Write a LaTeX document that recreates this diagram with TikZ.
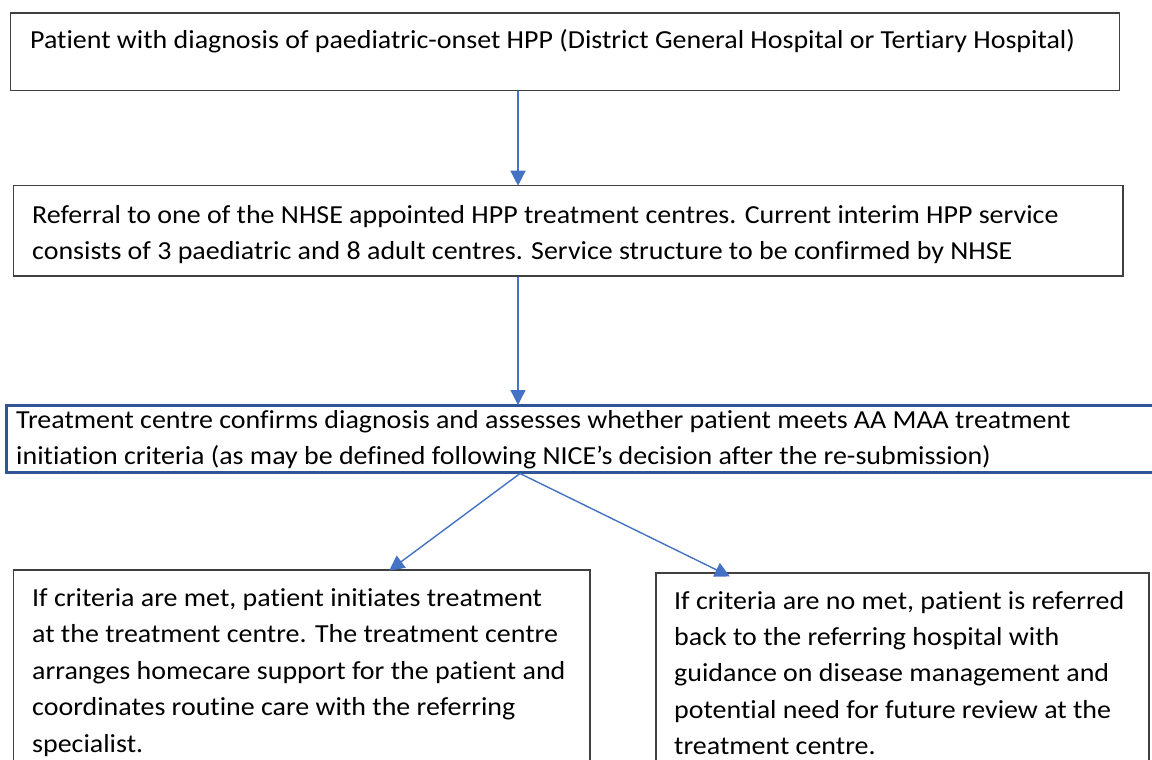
\documentclass[tikz,border=0pt]{standalone}
\usepackage{fontspec}
\setmainfont{Carlito}[FakeStretch=1.075,Ligatures=NoCommon]
\usetikzlibrary{arrows.meta,calc}
\definecolor{boxgray}{HTML}{404040}
\definecolor{arrowblue}{HTML}{4472C4}
\definecolor{darkblue}{HTML}{2F5597}
\newcommand{\lines}[1]{\begin{tabular}[t]{@{}l@{}}#1\end{tabular}}
\tikzset{
  box/.style={draw=boxgray, line width=1.5pt, rectangle, inner sep=0pt, anchor=north west},
  bluebox/.style={draw=darkblue, line width=2.5pt, rectangle, inner sep=0pt, anchor=north west},
  txt/.style={anchor=base west, inner sep=0pt, font=\fontsize{26}{36.4}\selectfont, text=black},
  flow/.style={draw=arrowblue, line width=1.4pt, -{Triangle[width=15pt,length=15pt]}, shorten >=-1pt}
}
\begin{document}
\begin{tikzpicture}[x=1pt,y=-1pt]
\useasboundingbox (0,0) rectangle (1152,760);
\clip (0,0) rectangle (1152,760);
\fill[white] (0,0) rectangle (1152,760);
% boxes
\node[box, minimum width=1109pt, minimum height=77.5pt] (b1) at (9.5,12.3) {};
\node[box, minimum width=1109.5pt, minimum height=90.5pt] (b2) at (12.7,184.7) {};
\node[bluebox, minimum width=1160pt, minimum height=67pt] (b3) at (5,404) {};
\node[box, minimum width=576.5pt, minimum height=220pt] (b4) at (12.7,569.3) {};
\node[box, minimum width=493pt, minimum height=220pt] (b5) at (655,572) {};
% texts
\node[txt] (t1) at (30,48.5) {\lines{Patient with diagnosis of paediatric-onset HPP (District General Hospital or Tertiary Hospital)}};
\node[txt] (t2) at (32,223.5) {\lines{Referral to one of the NHSE appointed HPP treatment centres. Current interim HPP service\\consists of 3 paediatric and 8 adult centres. Service structure to be confirmed by NHSE}};
\node[txt] (t3) at (16,428.5) {\lines{Treatment centre confirms diagnosis and assesses whether patient meets AA MAA treatment\\initiation criteria (as may be defined following NICE's decision after the re-submission)}};
\node[txt] (t4) at (32,606.5) {\lines{If criteria are met, patient initiates treatment\\at the treatment centre. The treatment centre\\arranges homecare support for the patient and\\coordinates routine care with the referring\\specialist.}};
\node[txt] (t5) at (674,609) {\lines{If criteria are no met, patient is referred\\back to the referring hospital with\\guidance on disease management and\\potential need for future review at the\\treatment centre.}};
% arrows
\coordinate (x1) at (518,0);
\coordinate (x2) at (520,0);
\draw[flow] (b1.south -| x1) -- (b2.north -| x1);
\draw[flow] (b2.south -| x1) -- (b3.north -| x1);
\coordinate (split) at (b3.south -| x2);
\coordinate (e4) at (390,570);
\coordinate (e5) at (729,576);
\draw[flow] (split) -- (e4);
\draw[flow] (split) -- (e5);
\end{tikzpicture}
\end{document}
